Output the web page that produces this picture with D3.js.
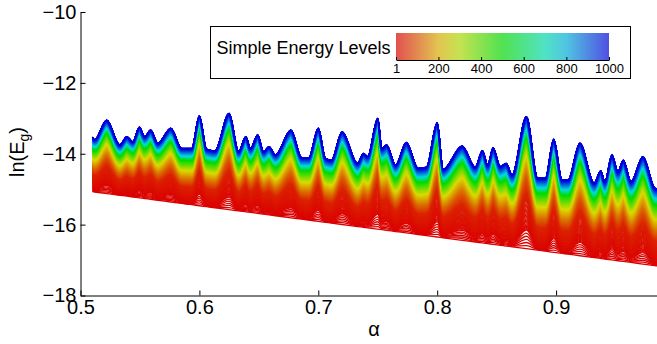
<!DOCTYPE html>
<html>
<head>
<meta charset="utf-8">
<script src="https://cdn.jsdelivr.net/npm/d3@7"></script>
<style>
  body { margin: 0; background: #fff; }
  svg { display: block; font-family: "Liberation Sans", Arial, Helvetica, sans-serif; }
</style>
</head>
<body>
<figure id="chart" style="margin:0"></figure>
<script>
// upper envelope (level 1000)
const topAlpha = [0.510, 0.512, 0.522, 0.533, 0.539, 0.544, 0.5495, 0.554, 0.559, 0.565, 0.576, 0.585, 0.5935,
  0.600, 0.606, 0.613, 0.625, 0.633, 0.639, 0.643, 0.649, 0.654, 0.6585, 0.664, 0.677, 0.686, 0.692,
  0.700, 0.706, 0.711, 0.720, 0.733, 0.738, 0.7415, 0.750, 0.7535, 0.7575, 0.765, 0.774, 0.784, 0.791,
  0.800, 0.805, 0.821, 0.832, 0.838, 0.8425, 0.847, 0.853, 0.858, 0.863, 0.875, 0.8845, 0.891, 0.898,
  0.905, 0.910, 0.920, 0.932, 0.9375, 0.941, 0.947, 0.952, 0.9565, 0.963, 0.973, 0.983, 0.985];
const topValue = [-13.53, -13.60, -13.05, -13.75, -13.52, -13.66, -13.25, -13.52, -13.33, -13.70, -13.28, -13.85, -13.85,
  -12.93, -13.87, -13.92, -12.86, -13.94, -13.52, -13.85, -13.47, -13.94, -13.80, -14.03, -13.33, -14.11, -14.11,
  -13.28, -14.13, -14.18, -13.38, -14.27, -13.99, -14.08, -13.00, -13.85, -13.75, -14.32, -13.68, -14.41, -14.38,
  -13.12, -14.44, -13.78, -14.38, -13.91, -14.32, -13.83, -14.36, -14.27, -14.60, -12.95, -14.69, -14.69, -13.59,
  -14.74, -14.74, -13.70, -14.83, -14.48, -14.79, -14.03, -14.51, -14.18, -14.79, -14.08, -14.97, -14.99];

// lowest level (straight red edge) and the line through the dips of the envelope
const bottomAlpha = [0.51, 0.985];
const bottomValue = [-15.07, -17.165];
const dipAlpha = [0.51, 0.985];
const dipValue = [-13.65, -14.97];

// where the colours sit inside the band: between peaks, and on the peaks
const levelMarks = [1, 40, 130, 250, 500, 720, 1000];
const flatFrac = [0, 0.32, 0.46, 0.61, 0.8, 0.865, 1];
const spikeMarks = [1, 7, 30, 100, 300, 1000];
const spikeFrac = [0, 0.25, 0.5, 0.68, 0.86, 1];

const levels = d3.range(1, 1001);
const xTicks = [0.5, 0.6, 0.7, 0.8, 0.9];
const yTicks = [-18, -16, -14, -12, -10];
const barTicks = [1, 200, 400, 600, 800, 1000];

const width = 657, height = 344;

const svg = d3.select("figure#chart")
  .append("svg")
  .attr("width", width)
  .attr("height", height);

const x = d3.scaleLinear().domain([0.5, 1.0]).range([80.5, 675]);
const y = d3.scaleLinear().domain([-18, -10]).range([295.5, 12]);

const hue = d3.scaleLinear().domain([1, 1000]).range([0, 240]);
const lineColor = (k) => d3.hsl(hue(k), 1, 0.43).formatHex();
const barColor = (k) => d3.hsl(hue(k), 0.72, 0.6).formatHex();

const bottomAt = d3.scaleLinear().domain(bottomAlpha).range(bottomValue);
const dipAt = d3.scaleLinear().domain(dipAlpha).range(dipValue);
const flat = d3.scaleLinear().domain(levelMarks).range(flatFrac);
const spike = d3.scaleLinear().domain(spikeMarks).range(spikeFrac);

const line = d3.line()
  .x((d) => x(d.a))
  .y((d) => y(d.v))
  .curve(d3.curveMonotoneX);

// one line for each energy level
const plot = svg.append("g");
levels.forEach((k) => {
  const pts = topAlpha.map((a, i) => {
    const b = bottomAt(a), m = dipAt(a);
    return { a: a, v: b + flat(k) * (m - b) + spike(k) * (topValue[i] - m) };
  });
  plot.append("path")
    .attr("d", line(pts))
    .attr("fill", "none")
    .attr("stroke", lineColor(k))
    .attr("stroke-width", 1.3);
});

// axes
const xAxis = svg.append("g")
  .attr("transform", "translate(0,295.5)")
  .call(d3.axisBottom(x).tickValues(xTicks).tickFormat(d3.format(".1f"))
    .tickSizeInner(-5).tickSizeOuter(0).tickPadding(4));

const yAxis = svg.append("g")
  .attr("transform", "translate(80.5,0)")
  .call(d3.axisLeft(y).tickValues(yTicks).tickFormat(d3.format("d"))
    .tickSizeInner(-5).tickSizeOuter(0).tickPadding(4));

[xAxis, yAxis].forEach((g) => {
  g.attr("font-family", null).attr("font-size", null);
  g.selectAll("text").attr("font-size", 20).attr("fill", "#000");
  g.selectAll("line, path").attr("stroke", "#000");
});

svg.append("text")
  .attr("x", 374)
  .attr("y", 336)
  .attr("text-anchor", "middle")
  .attr("font-size", 20)
  .text("α");

const ylab = svg.append("text")
  .attr("transform", "translate(24,152) rotate(-90)")
  .attr("text-anchor", "middle")
  .attr("font-size", 20);
ylab.append("tspan").text("ln(E");
ylab.append("tspan").attr("font-size", 14).attr("dy", 5).text("g");
ylab.append("tspan").attr("dy", -5).text(")");

// legend with colour bar
svg.append("rect")
  .attr("x", 210.5).attr("y", 26.5)
  .attr("width", 420).attr("height", 52)
  .attr("fill", "#fff").attr("stroke", "#000");

svg.append("text")
  .attr("x", 216.5).attr("y", 53.5)
  .attr("font-size", 18)
  .text("Simple Energy Levels");

const bar = d3.scaleLinear().domain([1, 1000]).range([396, 609]);

const grad = svg.append("defs").append("linearGradient")
  .attr("id", "bargrad")
  .attr("x1", "0%").attr("x2", "100%").attr("y1", "0%").attr("y2", "0%");
grad.selectAll("stop")
  .data(d3.range(0, 11))
  .enter()
  .append("stop")
  .attr("offset", (d) => d * 10 + "%")
  .attr("stop-color", (d) => barColor(1 + d * 99.9));

svg.append("rect")
  .attr("x", bar(1)).attr("y", 33)
  .attr("width", bar(1000) - bar(1)).attr("height", 27)
  .attr("fill", "url(#bargrad)");

const barAxis = svg.append("g")
  .attr("transform", "translate(0,60)")
  .call(d3.axisBottom(bar).tickValues(barTicks).tickFormat(d3.format("d"))
    .tickSizeInner(-3).tickSizeOuter(0).tickPadding(4));
barAxis.attr("font-family", null).attr("font-size", null);
barAxis.selectAll("text").attr("font-size", 13).attr("fill", "#000");
barAxis.selectAll("line, path").attr("stroke", "#000");
</script>
</body>
</html>
